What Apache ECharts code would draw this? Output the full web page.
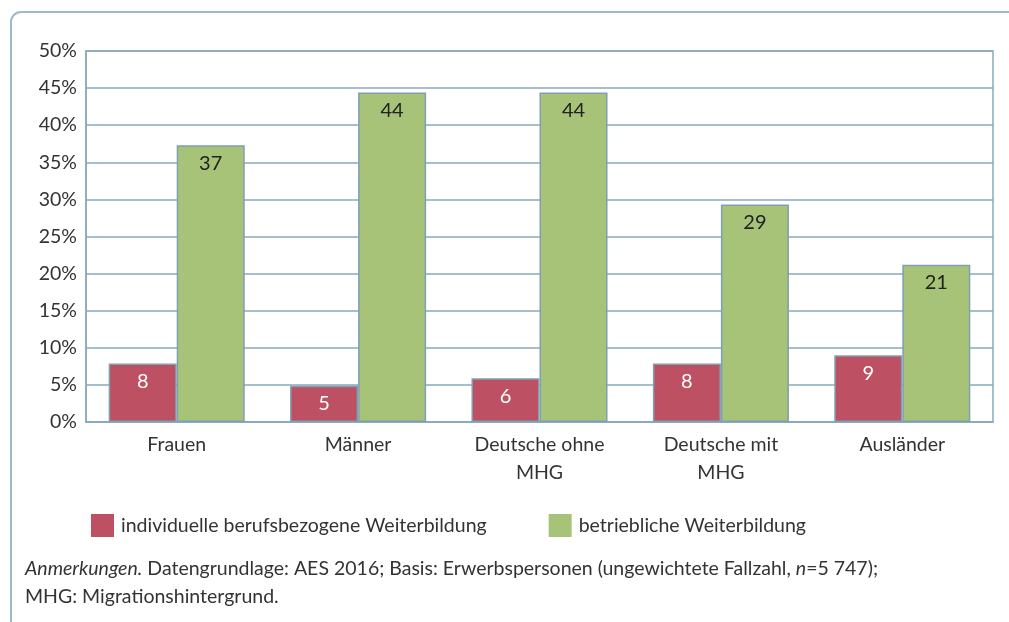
<!DOCTYPE html>
<html>
<head>
<meta charset="utf-8">
<script src="https://cdn.jsdelivr.net/npm/echarts@6/dist/echarts.min.js"></script>
<style>
  html, body { margin: 0; padding: 0; background: #fff; }
  #chart { width: 1009px; height: 622px; }
</style>
</head>
<body>
<div id="chart"></div>
<script>
const categories = ['Frauen', 'Männer', 'Deutsche ohne\nMHG', 'Deutsche mit\nMHG', 'Ausländer'];
const individuell = [7.9, 4.9, 5.9, 7.9, 9.0];
const betrieblich = [37.3, 44.4, 44.4, 29.3, 21.2];
const seriesNames = ['individuelle berufsbezogene Weiterbildung', 'betriebliche Weiterbildung'];

const FONT = 'Lato, sans-serif';
const TEXT = '#333333';
const LINE = '#8aa9bb';
const FS = 19.5;

const chart = echarts.init(document.getElementById('chart'));

chart.setOption({
  animation: false,
  textStyle: { fontFamily: FONT, color: TEXT },
  grid: {
    left: 86, right: 16, top: 51, bottom: 200,
    show: true, borderColor: LINE, borderWidth: 1.5,
  },
  legend: {
    left: 86, top: 509,
    itemWidth: 23, itemHeight: 23, itemGap: 62,
    icon: 'rect',
    itemStyle: { borderWidth: 0 },
    textStyle: { fontSize: FS, color: TEXT, fontFamily: FONT, padding: [0, 0, 0, 2] },
    data: seriesNames,
  },
  xAxis: {
    type: 'category',
    data: categories,
    axisTick: { show: false },
    axisLine: { lineStyle: { color: LINE, width: 1.5 } },
    axisLabel: { fontSize: FS, color: TEXT, margin: 9, lineHeight: 28 },
  },
  yAxis: {
    type: 'value',
    min: 0, max: 50, interval: 5,
    axisLine: { show: true, lineStyle: { color: LINE, width: 1.5 } },
    axisTick: { show: false },
    splitLine: { lineStyle: { color: LINE, width: 1.5 } },
    axisLabel: { fontSize: FS, color: TEXT, margin: 9, formatter: '{value}%' },
  },
  series: [
    {
      name: seriesNames[0],
      type: 'bar',
      data: individuell,
      barGap: '0%',
      barCategoryGap: '25%',
      itemStyle: { color: '#bd5063', borderColor: '#7f9fb3', borderWidth: 1.5 },
      label: {
        show: true, position: 'insideTop', distance: 8,
        fontSize: 20, color: '#ffffff',
        formatter: p => Math.round(p.value),
      },
    },
    {
      name: seriesNames[1],
      type: 'bar',
      data: betrieblich,
      barGap: '0%',
      barCategoryGap: '25%',
      itemStyle: { color: '#a7c378', borderColor: '#7f9fb3', borderWidth: 1.5 },
      label: {
        show: true, position: 'insideTop', distance: 8,
        fontSize: 20, color: '#222222',
        formatter: p => Math.round(p.value),
      },
    },
  ],
  graphic: [
    {
      // frame around the figure, cut off at right and bottom
      type: 'rect',
      shape: { x: 11, y: 12, width: 1040, height: 660, r: 10 },
      style: { fill: 'none', stroke: '#9cbac9', lineWidth: 2 },
      silent: true,
    },
    {
      type: 'text',
      left: 25, top: 555,
      style: {
        text: '{i|Anmerkungen.} Datengrundlage: AES 2016; Basis: Erwerbspersonen (ungewichtete Fallzahl, {i|n}=5 747);\nMHG: Migrationshintergrund.',
        fontFamily: FONT, fontSize: FS, fill: TEXT, lineHeight: 28,
        rich: {
          i: { fontStyle: 'italic', fontFamily: FONT, fontSize: FS, fill: TEXT, lineHeight: 28 },
        },
      },
    },
  ],
});
</script>
</body>
</html>
